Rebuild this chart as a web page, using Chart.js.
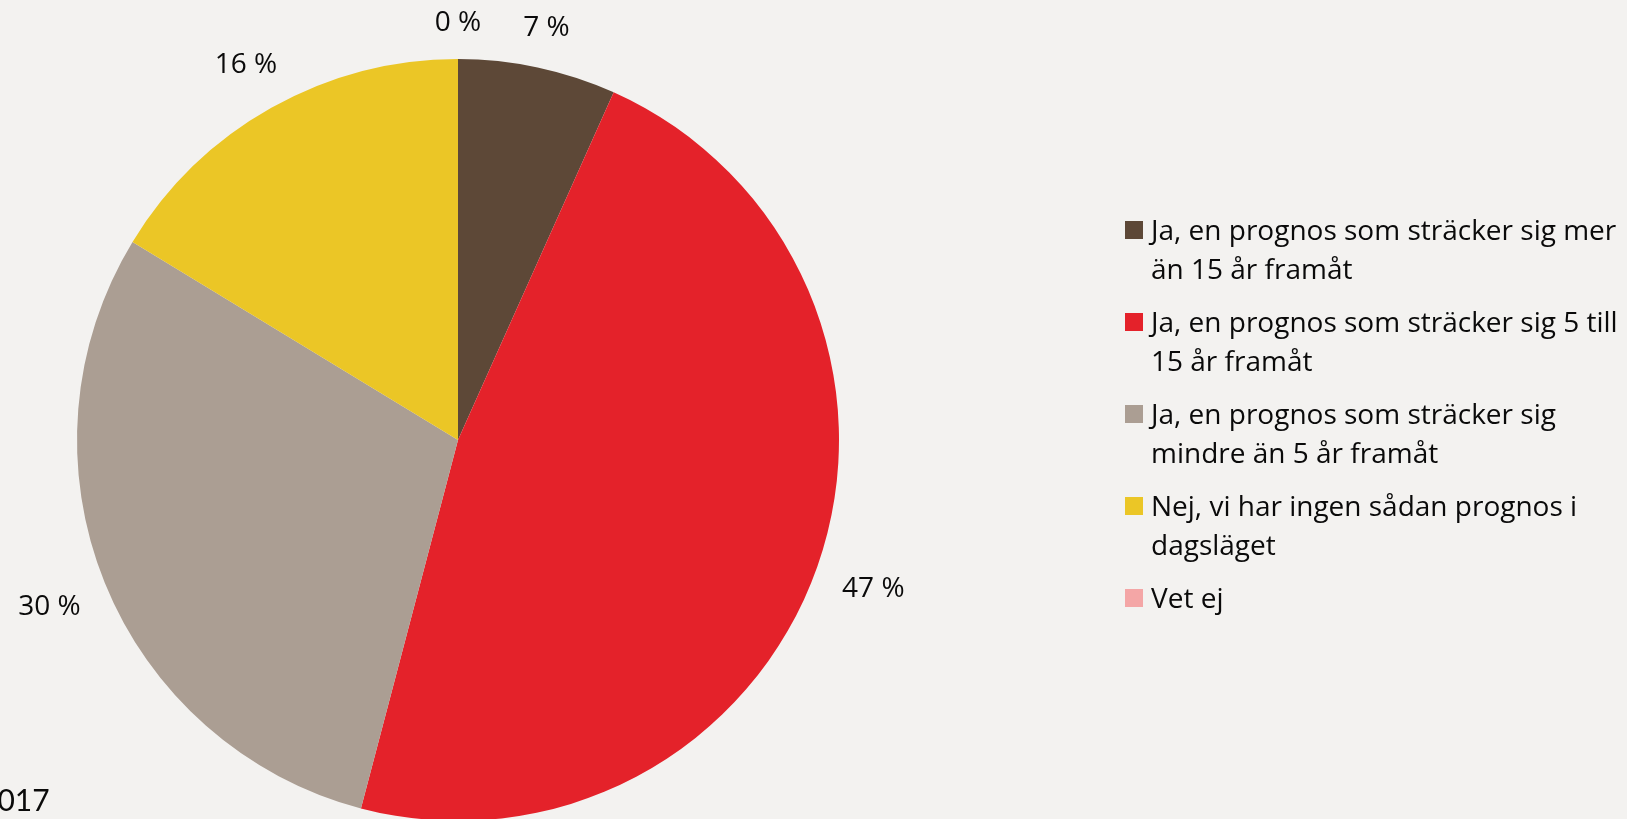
<!DOCTYPE html>
<html lang="sv">
<head>
<meta charset="utf-8">
<title>Prognos</title>
<script src="https://cdn.jsdelivr.net/npm/chart.js@4.4.0/dist/chart.umd.min.js"></script>
<style>
    html, body { margin: 0; padding: 0; }
    body {
        width: 1627px; height: 819px; overflow: hidden; position: relative;
        background: #f3f2f0; color: #0a0a0a;
        font-family: "Open Sans", Lato, sans-serif;
    }
    #pieChart { position: absolute; left: 0; top: 0; }
    #legend { position: absolute; left: 1125px; top: 210px; margin: 0; padding: 0; list-style: none; }
    #legend li { position: relative; padding-left: 26px; font-size: 28px; line-height: 38.5px; margin-bottom: 15px; white-space: nowrap; }
    #legend .box { position: absolute; left: 0; top: 11px; width: 18px; height: 18px; }
    #source { position: absolute; left: -20px; top: 784px; font-size: 30px; line-height: 30px; font-family: Lato, sans-serif; }
</style>
</head>
<body>
<canvas id="pieChart" width="1627" height="882"></canvas>
<ul id="legend"></ul>
<div id="source">2017</div>
<script>
// DATA (läst ur bilden)
const categories = [
    ['Ja, en prognos som sträcker sig mer', 'än 15 år framåt'],
    ['Ja, en prognos som sträcker sig 5 till', '15 år framåt'],
    ['Ja, en prognos som sträcker sig', 'mindre än 5 år framåt'],
    ['Nej, vi har ingen sådan prognos i', 'dagsläget'],
    ['Vet ej']
];
const shares = [6.7, 47.4, 29.6, 16.3, 0];
const sliceColors = ['#5d4837', '#e4222a', '#ab9e93', '#ebc626', '#f4a6a6'];

// ETIKETTER UTANFÖR TÅRTBITARNA
const outsideLabels = {
    id: 'outsideLabels',
    afterDatasetsDraw(chart) {
        const ctx = chart.ctx;
        const meta = chart.getDatasetMeta(0);
        ctx.save();
        ctx.font = '28px "Open Sans", Lato, sans-serif';
        ctx.fillStyle = '#0a0a0a';
        ctx.textAlign = 'center';
        ctx.textBaseline = 'middle';
        meta.data.forEach((arc, i) => {
            const p = arc.getProps(['x', 'y', 'startAngle', 'endAngle', 'outerRadius'], true);
            const mid = (p.startAngle + p.endAngle) / 2;
            const text = Math.round(shares[i]) + ' %';
            const w = ctx.measureText(text).width;
            const ext = Math.abs(Math.cos(mid)) * w / 2 + Math.abs(Math.sin(mid)) * 12;
            const r = p.outerRadius + 26 + ext;
            ctx.fillText(text, p.x + Math.cos(mid) * r, p.y + Math.sin(mid) * r + 2);
        });
        ctx.restore();
    }
};

const chart = new Chart(document.getElementById('pieChart'), {
    type: 'pie',
    data: {
        labels: categories,
        datasets: [{ data: shares, backgroundColor: sliceColors, borderWidth: 0, hoverOffset: 0 }]
    },
    options: {
        responsive: false,
        animation: false,
        events: [],
        layout: { padding: { left: 77, right: 788, top: 59, bottom: 61 } },
        plugins: { legend: { display: false }, tooltip: { enabled: false } }
    },
    plugins: [outsideLabels]
});

// HTML-LEGEND FRÅN DIAGRAMMET
const legendEl = document.getElementById('legend');
chart.options.plugins.legend.labels.generateLabels(chart).forEach(item => {
    const li = document.createElement('li');
    const box = document.createElement('span');
    box.className = 'box';
    box.style.background = item.fillStyle;
    li.appendChild(box);
    const lines = Array.isArray(item.text) ? item.text : [item.text];
    lines.forEach((line, k) => {
        if (k) li.appendChild(document.createElement('br'));
        li.appendChild(document.createTextNode(line));
    });
    legendEl.appendChild(li);
});
</script>
</body>
</html>
